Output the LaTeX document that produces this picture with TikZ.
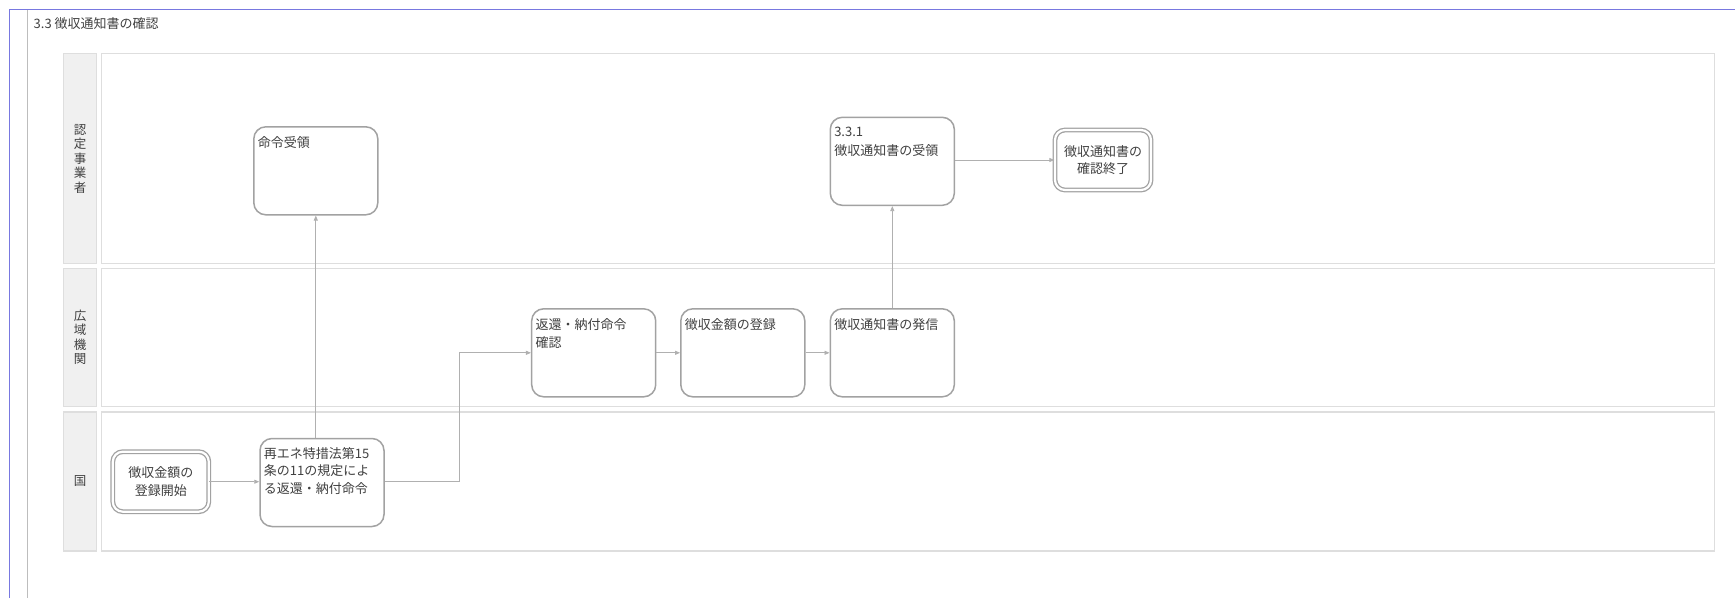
\documentclass[tikz,border=0pt]{standalone}
\usepackage{fontspec}
\setmainfont{Noto Sans CJK JP}
\usetikzlibrary{arrows.meta,calc}
\definecolor{frameblue}{HTML}{7878E0}
\definecolor{framegray}{HTML}{BDBDBD}
\definecolor{lanefill}{HTML}{F0F0F0}
\definecolor{laneline}{HTML}{DEDEDE}
\definecolor{boxgray}{HTML}{A2A2A2}
\definecolor{arrgray}{HTML}{B0B0B0}
\definecolor{txt}{HTML}{404040}
\begin{document}
\begin{tikzpicture}[x=1pt,y=-1pt,
  font=\fontsize{13}{17.5}\selectfont, text=txt,
  lanelabel/.style={draw=laneline, fill=lanefill, line width=1.2, minimum width=33, inner sep=0, align=center,
    font=\fontsize{12.5}{14.5}\selectfont},
  lanebody/.style={draw=laneline, fill=white, line width=1.4, minimum width=1613, inner sep=0},
  taskbox/.style={draw=boxgray, line width=1.5, rounded corners=12, minimum width=124, minimum height=88, inner sep=0},
  eventbox/.style={draw=boxgray, double=white, double distance=2.2, line width=1.3, rounded corners=10,
    minimum width=96, minimum height=60, inner sep=0, align=center},
  tasktext/.style={anchor=base west, inner sep=0},
  arr/.style={draw=arrgray, line width=0.8, -{Triangle[length=5pt,width=4pt]}}
]
\useasboundingbox (0,0) rectangle (1735,598);
% frame
\draw[frameblue, line width=1] (9,598) -- (9,9) -- (1735,9);
\draw[framegray, line width=1] (27,10) -- (27,598);
\node[anchor=west, inner sep=0] (title) at (33.5,24) {3.3 徴収通知書の確認};

% lanes
\node[lanelabel, minimum height=210] (l1) at (80,158.6) {認\\定\\事\\業\\者};
\node[lanebody, minimum height=210] (b1) at (907.9,158.6) {};
\node[lanelabel, minimum height=138] (l2) at (80,337.2) {広\\域\\機\\関};
\node[lanebody, minimum height=138] (b2) at (907.9,337.2) {};
\node[lanelabel, minimum height=139] (l3) at (80,481.5) {国};
\node[lanebody, minimum height=139] (b3) at (907.9,481.5) {};

% nodes
\node[taskbox] (meirei) at (315.8,170.8) {};
\node[tasktext] (tmeirei) at ($(meirei.north west)+(4.5,21)$) {\parbox[t]{118pt}{\raggedright 命令受領}};

\node[taskbox] (r331) at (892.3,161.3) {};
\node[tasktext] (tr331) at ($(r331.north west)+(4.5,20)$) {\parbox[t]{118pt}{\raggedright\baselineskip=19pt 3.3.1\\徴収通知書の受領}};

\node[eventbox] (end) at (1103,160) {徴収通知書の\\確認終了};

\node[taskbox] (henkan) at (593.7,352.8) {};
\node[tasktext] (thenkan) at ($(henkan.north west)+(4.5,21.5)$) {\parbox[t]{118pt}{\raggedright 返還・納付命令\\確認}};

\node[taskbox] (touroku) at (742.8,352.8) {};
\node[tasktext] (ttouroku) at ($(touroku.north west)+(4.5,21.5)$) {\parbox[t]{118pt}{\raggedright 徴収金額の登録}};

\node[taskbox] (hasshin) at (892.3,352.8) {};
\node[tasktext] (thasshin) at ($(hasshin.north west)+(4.5,21.5)$) {\parbox[t]{118pt}{\raggedright 徴収通知書の発信}};

\node[eventbox] (start) at (160.8,481.7) {徴収金額の\\登録開始};

\node[taskbox] (saiene) at (322,482.5) {};
\node[tasktext] (tsaiene) at ($(saiene.north west)+(4.5,20.5)$) {\parbox[t]{118pt}{\raggedright 再エネ特措法第15\\条の11の規定によ\\る返還・納付命令}};

% connectors
\draw[arr] (start.east) -- (start.east -| saiene.west);
\draw[arr] (meirei.south |- saiene.north) -- (meirei.south);
\draw[arr] (saiene.east |- start.east) -- ++(74.3,0) |- (henkan.west);
\draw[arr] (henkan.east) -- (touroku.west);
\draw[arr] (touroku.east) -- (hasshin.west);
\draw[arr] (hasshin.north) -- (r331.south);
\draw[arr] (r331.east |- end.west) -- (end.west);
\end{tikzpicture}
\end{document}
